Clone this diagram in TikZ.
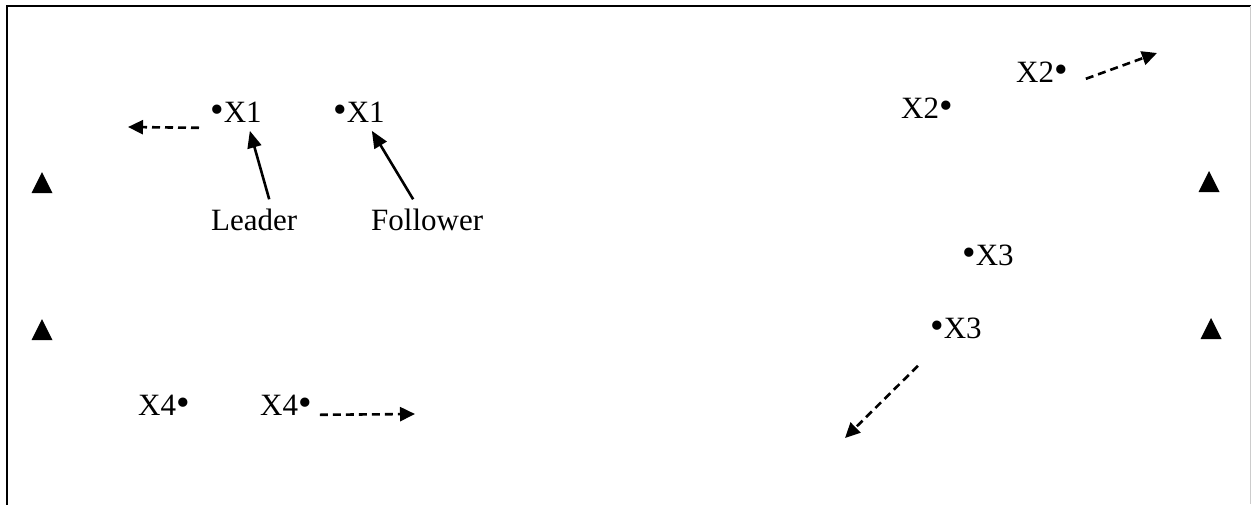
\documentclass[tikz,border=0pt]{standalone}
\usepackage{fontspec}
\setmainfont{Liberation Serif}
\usetikzlibrary{arrows.meta,calc}
\newcommand{\bigdot}{\raisebox{-0.6pt}{\scalebox{1.25}{•}}}
\begin{document}
\begin{tikzpicture}[x=1pt,y=-1pt,
  lbl/.style={inner sep=0pt, font=\fontsize{31}{37}\selectfont},
  ptr/.style={line width=2.6pt, -{Triangle[length=17pt,width=14pt]}},
  mv/.style={line width=2.6pt, dash pattern=on 8pt off 5pt, -{Triangle[length=15pt,width=14pt]}},
  beacon/.style={fill=black}
]
\useasboundingbox (0,0) rectangle (1251,504);
% frame
\draw[line width=2.8pt] (7,515) -- (7,6) -- (1255,6);
\draw[black!20, line width=1pt] (1250,6) -- (1250,504);

% triangles (beacons)
\fill[beacon] (31.5,193) -- (52.5,193) -- (42,172) -- cycle;
\fill[beacon] (31.5,340) -- (52.5,340) -- (42,319) -- cycle;
\fill[beacon] (1198.5,192) -- (1219.5,192) -- (1209,171) -- cycle;
\fill[beacon] (1200.5,339) -- (1221.5,339) -- (1211,318) -- cycle;

% labels
\node[lbl, anchor=base west] (x1a) at (210,122) {\bigdot X1};
\node[lbl, anchor=base west] (x1b) at (333,122) {\bigdot X1};
\node[lbl, anchor=base west] (lead) at (211,230) {Leader};
\node[lbl, anchor=base west] (foll) at (371,230) {Follower};
\node[lbl, anchor=base west] (x2a) at (1016,82) {X2\bigdot};
\node[lbl, anchor=base west] (x2b) at (901,118) {X2\bigdot};
\node[lbl, anchor=base west] (x3a) at (962,265) {\bigdot X3};
\node[lbl, anchor=base west] (x3b) at (930,338) {\bigdot X3};
\node[lbl, anchor=base west] (x4a) at (138,415) {X4\bigdot};
\node[lbl, anchor=base west] (x4b) at (260,415) {X4\bigdot};

% free ends of movement arrows
\coordinate (m1) at (128,127);
\coordinate (m2) at (1157,53);
\coordinate (m3) at (845,438);
\coordinate (m4) at (415,414);

% pointer arrows
\draw[ptr] ($(lead.north)+(15,-9)$) -- ($(x1a.south east)+(-12,8)$);
\draw[ptr] ($(foll.north)+(-14,-9)$) -- ($(x1b.south east)+(-13,8)$);

% movement arrows
\draw[mv] ($(x1a.south west)+(-11,5)$) -- (m1);
\draw[mv] ($(x2a.south east)+(18,-4)$) -- (m2);
\draw[mv] ($(x3b.south west)+(-12,27)$) -- (m3);
\draw[mv] ($(x4b.south east)+(8,-1)$) -- (m4);
\end{tikzpicture}
\end{document}
